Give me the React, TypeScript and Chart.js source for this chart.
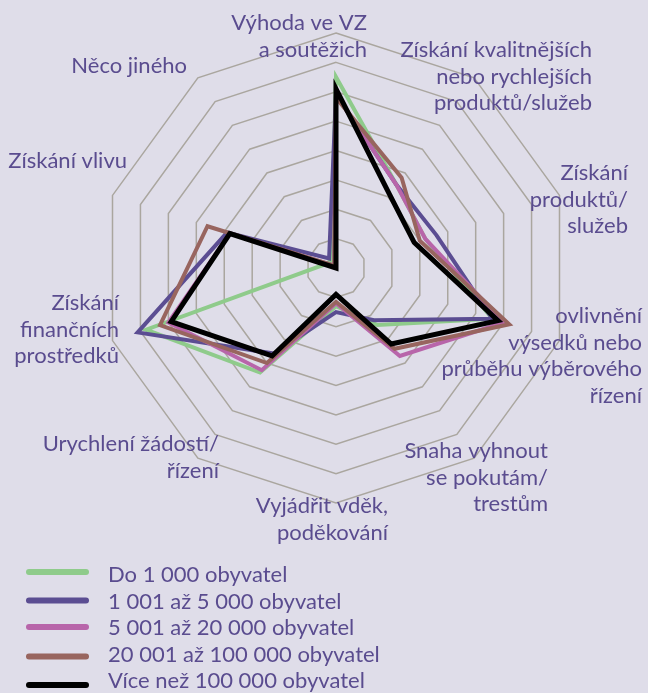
import React, { useEffect, useRef } from 'react';
import { Chart, registerables } from 'chart.js';

Chart.register(...registerables);

// Axis categories (multi-line labels)
const categories: string[][] = [
  ['Výhoda ve VZ', 'a soutěžich'],
  ['Získání kvalitnějších', 'nebo rychlejších', 'produktů/služeb'],
  ['Získání', 'produktů/', 'služeb'],
  ['ovlivnění', 'výsedků nebo', 'průběhu výběrového', 'řízení'],
  ['Snaha vyhnout', 'se pokutám/', 'trestům'],
  ['Vyjádřit vděk,', 'poděkování'],
  ['Urychlení žádostí/', 'řízení'],
  ['Získání', 'finančních', 'prostředků'],
  ['Získání vlivu'],
  ['Něco jiného'],
];

const seriesNames = [
  'Do 1 000 obyvatel',
  '1 001 až 5 000 obyvatel',
  '5 001 až 20 000 obyvatel',
  '20 001 až 100 000 obyvatel',
  'Více než 100 000 obyvatel',
];

// Values (%)
const do1000 = [65, 35, 32, 56, 24, 13, 44, 68, 4, 3];
const od1001do5000 = [59, 35, 36, 56, 22, 15, 36, 71, 39, 4];
const od5001do20000 = [59, 35, 32, 60, 37, 12, 43, 60, 38, 1];
const od20001do100000 = [58, 38, 30, 62, 34, 11.5, 40, 63, 46, 1];
const nad100000 = [61, 31, 28, 58, 32, 9, 37, 59, 38, 0];

const scaleMax = 80;
const scaleStep = 10;

// Styles
const colors = ['#8fcb8b', '#5b4d92', '#b865aa', '#98655f', '#000000'];
const widths = [4, 4, 4, 4, 5];
const drawOrder = [4, 3, 2, 1, 0];
const BG = '#dfdde9';
const TEXT = '#5a4c8f';
const GRID = '#aaa69f';
const FONT = '22px Lato';
const LINE_H = 26.7;

// Label placement: right edge x, first baseline y
const labelPlacement = [
  { right: 367, baseline: 30 },
  { right: 592, baseline: 57 },
  { right: 628, baseline: 180 },
  { right: 642, baseline: 323 },
  { right: 548, baseline: 458 },
  { right: 388, baseline: 513 },
  { right: 219, baseline: 451 },
  { right: 119, baseline: 310 },
  { right: 127, baseline: 168 },
  { right: 187, baseline: 73 },
];
const legendLayout = { lineX1: 29, lineX2: 86, textX: 108, baseline0: 582, step: 26.6, lineYs: [572, 600.5, 627, 656.5, 685] };

const textPlugin = {
  id: 'customText',
  afterDraw(chart: any) {
    const ctx: CanvasRenderingContext2D = chart.ctx;
    ctx.save();
    ctx.font = FONT;
    ctx.fillStyle = TEXT;
    ctx.textAlign = 'right';
    ctx.textBaseline = 'alphabetic';
    categories.forEach((lines, i) => {
      const p = labelPlacement[i];
      lines.forEach((t, j) => ctx.fillText(t, p.right, p.baseline + j * LINE_H));
    });
    // legend
    ctx.textAlign = 'left';
    seriesNames.forEach((name, i) => {
      const y = legendLayout.lineYs[i];
      ctx.beginPath();
      ctx.strokeStyle = colors[i];
      ctx.lineWidth = 6;
      ctx.lineCap = 'round';
      ctx.moveTo(legendLayout.lineX1, y);
      ctx.lineTo(legendLayout.lineX2, y);
      ctx.stroke();
      ctx.fillStyle = TEXT;
      ctx.fillText(name, legendLayout.textX, legendLayout.baseline0 + i * legendLayout.step);
    });
    ctx.restore();
  },
};

export default function App() {
  const ref = useRef<HTMLCanvasElement | null>(null);
  useEffect(() => {
    if (!ref.current) return;
    const series = [do1000, od1001do5000, od5001do20000, od20001do100000, nad100000];
    const chart = new Chart(ref.current, {
      type: 'radar',
      data: {
        labels: categories.map((c) => c.join(' ')),
        datasets: series.map((d, i) => ({
          label: seriesNames[i],
          data: d,
          borderColor: colors[i],
          backgroundColor: colors[i],
          borderWidth: widths[i],
          pointRadius: 0,
          pointHoverRadius: 0,
          fill: false,
          tension: 0,
          borderJoinStyle: 'miter' as const,
          order: drawOrder[i],
        })),
      },
      options: {
        responsive: false,
        animation: false,
        layout: { padding: { left: 101, right: 77, top: 33, bottom: 190 } },
        plugins: { legend: { display: false }, tooltip: { enabled: false } },
        scales: {
          r: {
            min: 0,
            max: scaleMax,
            ticks: { display: false, stepSize: scaleStep },
            grid: { color: GRID, lineWidth: 1.5 },
            angleLines: { display: false },
            pointLabels: { display: false },
          },
        },
      },
      plugins: [textPlugin],
    });
    return () => chart.destroy();
  }, []);
  return (
    <div style={{ position: 'fixed', left: 0, top: 0, width: 648, height: 693, background: BG }}>
      <canvas ref={ref} width={648} height={693} style={{ display: 'block' }} />
    </div>
  );
}
